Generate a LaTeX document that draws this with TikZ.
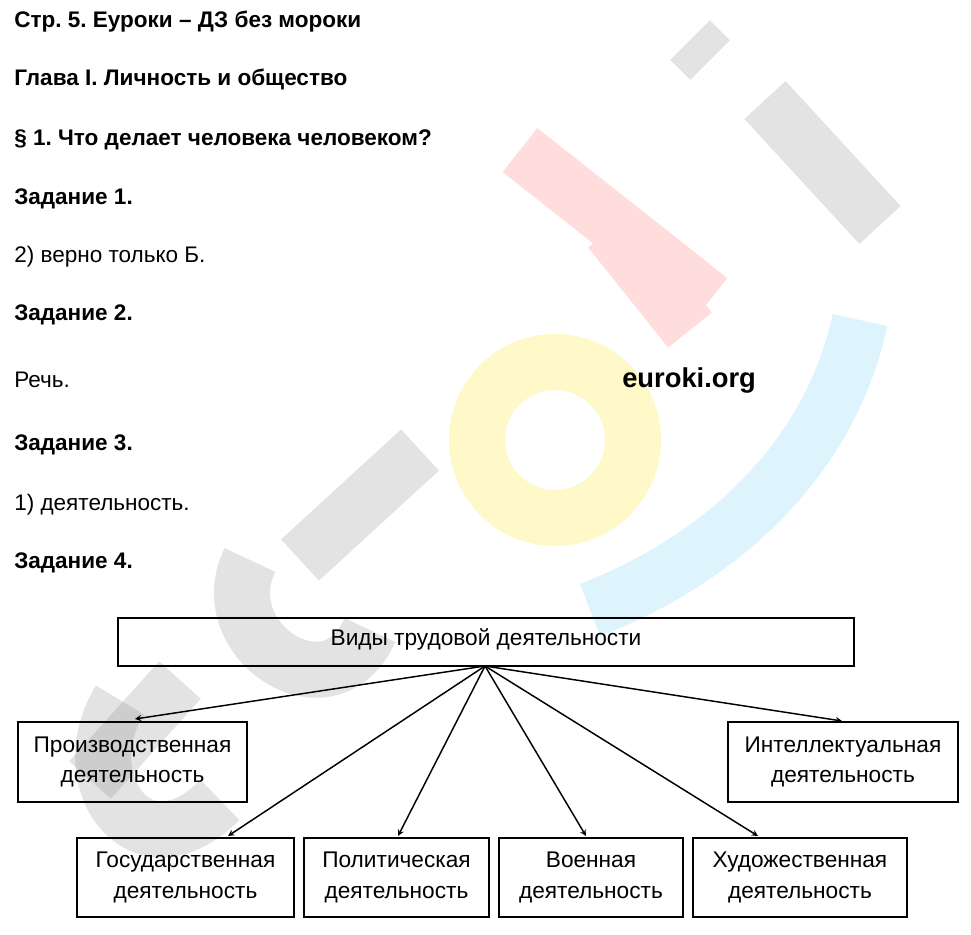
\documentclass[tikz,border=0pt]{standalone}
\usepackage{fontspec}
\setmainfont{Liberation Sans}
\frenchspacing
\begin{document}
\begin{tikzpicture}[x=0.75pt,y=-0.75pt,
  head/.style={anchor=base west,font=\fontsize{16.9}{19}\selectfont\bfseries,inner sep=0},
  txt/.style={anchor=base west,font=\fontsize{16.9}{19}\selectfont,inner sep=0},
  box/.style={draw,line width=1.2pt,align=center,font=\fontsize{17}{23}\selectfont,inner sep=0},
  arr/.style={->,>=stealth,line width=1.1pt},
  wm/.style={line width=42,opacity=0.22,line cap=butt}]
\useasboundingbox (0,0) rectangle (971,935);
% watermark
\draw[wm,gray] (690,40) -- (710,60);
\draw[wm,gray] (765,100) -- (880,225);
\begin{scope}[transparency group,opacity=0.22]
\draw[line width=42,red!60] (520,150) -- (710,300) (610,230) -- (690,330);
\end{scope}
\draw[wm,yellow!80!orange] (555,440) circle (78);
\draw[wm,cyan!60] (860,320) .. controls (830,460) and (720,560) .. (590,610);
\draw[wm,gray] (420,450) -- (300,560);
\draw[wm,gray] (250,560) .. controls (210,640) and (330,720) .. (370,630);
\draw[wm,gray] (120,700) .. controls (70,780) and (140,880) .. (220,800);
\draw[wm,gray] (180,680) -- (90,780);
% texts
\node[head] (h1) at (14,27) {Стр. 5. Еуроки – ДЗ без мороки};
\node[head] (h2) at (14,85) {Глава I. Личность и общество};
\node[head] (h3) at (14,145) {§ 1. Что делает человека человеком?};
\node[head] (h4) at (14,204) {Задание 1.};
\node[txt] (t1) at (14,262) {2) верно только Б.};
\node[head] (h5) at (14,320) {Задание 2.};
\node[txt] (t2) at (14,387) {Речь.};
\node[anchor=base west,font=\fontsize{20.5}{24}\selectfont\bfseries,inner sep=0] (eu) at (622,387) {euroki.org};
\node[head] (h6) at (14,450) {Задание 3.};
\node[txt] (t3) at (14,510) {1) деятельность.};
\node[head] (h7) at (14,568) {Задание 4.};
% boxes
\node[box,minimum width=736*0.75pt,minimum height=48*0.75pt] (top) at (486,642) {};
\node[anchor=base,font=\fontsize{17}{20}\selectfont,inner sep=0] (toptext) at (486,645) {Виды трудовой деятельности};
\node[box,minimum width=229*0.75pt,minimum height=80*0.75pt] (p) at (132.5,762) {Производственная\\деятельность};
\node[box,minimum width=230*0.75pt,minimum height=80*0.75pt] (i) at (843,762) {Интеллектуальная\\деятельность};
\node[box,minimum width=217*0.75pt,minimum height=79*0.75pt] (g) at (185.5,877.5) {Государственная\\деятельность};
\node[box,minimum width=185*0.75pt,minimum height=79*0.75pt] (pol) at (396.5,877.5) {Политическая\\деятельность};
\node[box,minimum width=184*0.75pt,minimum height=79*0.75pt] (v) at (591,877.5) {Военная\\деятельность};
\node[box,minimum width=214*0.75pt,minimum height=79*0.75pt] (h) at (800,877.5) {Художественная\\деятельность};
\coordinate (o) at (485,666);
\coordinate (ep) at (135,719);
\coordinate (ei) at (842,721);
\coordinate (eg) at (228,836);
\coordinate (epol) at (398,836);
\coordinate (ev) at (586,836);
\coordinate (eh) at (758,836);
\foreach \e in {ep,ei,eg,epol,ev,eh} \draw[arr] (o) -- (\e);
\end{tikzpicture}
\end{document}
